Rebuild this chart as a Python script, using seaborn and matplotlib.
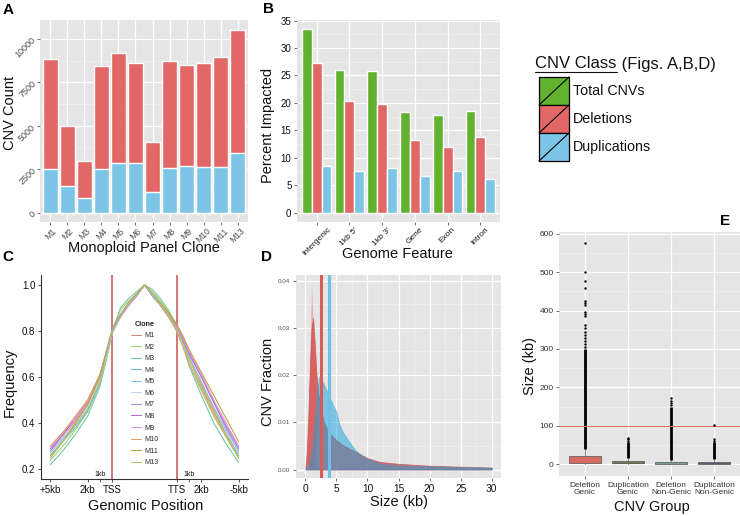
import matplotlib
matplotlib.use("Agg")
import matplotlib.pyplot as plt
import seaborn as sns
import numpy as np
import pandas as pd
from matplotlib.patches import Rectangle
from matplotlib.lines import Line2D

# ---------------- data ----------------
clones = ["M1", "M2", "M3", "M4", "M5", "M6", "M7", "M8", "M9", "M10", "M11", "M13"]
cnv_total = [8830, 4970, 2960, 8430, 9200, 8640, 4050, 8720, 8510, 8640, 8970, 10540]
cnv_dup = [2540, 1530, 880, 2540, 2870, 2850, 1200, 2600, 2700, 2620, 2620, 3460]

features = ["Intergenic", "1kb 5'", "1kb 3'", "Gene", "Exon", "Intron"]
pct_total = [33.4, 26.0, 25.9, 18.4, 17.8, 18.6]
pct_del = [27.2, 20.35, 19.9, 13.2, 12.0, 13.85]
pct_dup = [8.6, 7.7, 8.1, 6.7, 7.6, 6.1]

# panel C: positions (TSS = 0, gene body scaled to 5.2, TTS = 5.2)
c_pos = [-5, -4, -3, -2, -1, -0.5, 0, 0.65, 1.3, 1.95, 2.6, 3.25, 3.9, 4.55, 5.2, 5.7, 6.2, 7.2, 8.2, 9.2, 10.2]
c_tss, c_tts = 0.0, 5.2
freq_M1 = [0.28, 0.34, 0.41, 0.48, 0.60, 0.70, 0.80, 0.87, 0.92, 0.96, 1.00, 0.96, 0.92, 0.87, 0.81, 0.75, 0.68, 0.56, 0.45, 0.35, 0.27]
freq_M2 = [0.24, 0.30, 0.37, 0.45, 0.58, 0.69, 0.81, 0.89, 0.93, 0.96, 1.00, 0.97, 0.93, 0.88, 0.82, 0.74, 0.66, 0.54, 0.43, 0.34, 0.25]
freq_M3 = [0.22, 0.28, 0.35, 0.43, 0.56, 0.67, 0.79, 0.90, 0.94, 0.97, 1.00, 0.98, 0.94, 0.89, 0.82, 0.74, 0.65, 0.52, 0.40, 0.31, 0.23]
freq_M4 = [0.26, 0.32, 0.38, 0.45, 0.57, 0.68, 0.80, 0.86, 0.91, 0.95, 1.00, 0.95, 0.91, 0.86, 0.80, 0.74, 0.68, 0.57, 0.46, 0.36, 0.26]
freq_M5 = [0.27, 0.33, 0.39, 0.46, 0.58, 0.68, 0.79, 0.86, 0.91, 0.95, 1.00, 0.95, 0.91, 0.86, 0.81, 0.75, 0.69, 0.58, 0.47, 0.37, 0.28]
freq_M6 = [0.29, 0.34, 0.40, 0.47, 0.58, 0.68, 0.79, 0.86, 0.91, 0.96, 1.00, 0.96, 0.91, 0.86, 0.80, 0.74, 0.68, 0.57, 0.46, 0.36, 0.27]
freq_M7 = [0.28, 0.35, 0.42, 0.50, 0.61, 0.71, 0.81, 0.87, 0.92, 0.96, 1.00, 0.96, 0.92, 0.87, 0.82, 0.77, 0.71, 0.60, 0.49, 0.39, 0.30]
freq_M8 = [0.29, 0.35, 0.42, 0.49, 0.61, 0.70, 0.80, 0.87, 0.92, 0.96, 1.00, 0.96, 0.92, 0.87, 0.82, 0.76, 0.70, 0.60, 0.49, 0.38, 0.29]
freq_M9 = [0.30, 0.36, 0.42, 0.49, 0.60, 0.70, 0.80, 0.86, 0.91, 0.95, 1.00, 0.96, 0.92, 0.87, 0.82, 0.77, 0.71, 0.61, 0.50, 0.40, 0.30]
freq_M10 = [0.30, 0.36, 0.43, 0.50, 0.61, 0.70, 0.80, 0.87, 0.92, 0.96, 1.00, 0.96, 0.91, 0.86, 0.80, 0.73, 0.66, 0.55, 0.44, 0.34, 0.25]
freq_M11 = [0.25, 0.32, 0.40, 0.48, 0.60, 0.70, 0.80, 0.87, 0.92, 0.96, 1.00, 0.96, 0.92, 0.88, 0.83, 0.78, 0.72, 0.62, 0.52, 0.42, 0.32]
freq_M13 = [0.26, 0.32, 0.39, 0.46, 0.58, 0.69, 0.80, 0.87, 0.92, 0.96, 1.00, 0.96, 0.92, 0.87, 0.81, 0.75, 0.68, 0.57, 0.46, 0.35, 0.25]
c_ticks = [-5, -2, 0, 5.2, 7.2, 10.2]
c_ticklabels = ["+5kb", "2kb", "TSS", "TTS", "2kb", "-5kb"]
c_1kb = [-1, 6.2]

# panel D: size distributions (kb, fraction)
del_size = [0, 0.25, 0.5, 0.75, 1.0, 1.25, 1.5, 1.75, 2.0, 2.25, 2.5, 3.0, 3.5, 4.0, 5.0, 6.0, 7.0, 8.0, 10.0, 12.0, 15.0, 20.0, 25.0, 30.0]
del_frac = [0, 0.004, 0.012, 0.022, 0.030, 0.032, 0.027, 0.021, 0.017, 0.0145, 0.0125, 0.0100, 0.0085, 0.0075, 0.0062, 0.0052, 0.0045, 0.0038, 0.0024, 0.0016, 0.0012, 0.0008, 0.0006, 0.0004]
del_fine_size = [0.3, 0.6, 0.85, 1.0, 1.15, 1.4, 1.7]
del_fine_frac = [0.002, 0.015, 0.030, 0.039, 0.034, 0.027, 0.020]
dup_size = [0, 0.5, 1.0, 1.5, 1.75, 2.0, 2.25, 2.5, 3.0, 3.5, 4.0, 4.5, 5.0, 5.5, 6.0, 7.0, 8.0, 9.0, 10.0, 11.0, 12.0, 14.0, 17.0, 20.0, 25.0, 30.0]
dup_frac = [0, 0.001, 0.004, 0.010, 0.015, 0.018, 0.0197, 0.0192, 0.0180, 0.0165, 0.0150, 0.0135, 0.0122, 0.0095, 0.0080, 0.0060, 0.0042, 0.0030, 0.0023, 0.0018, 0.0013, 0.0010, 0.0008, 0.0007, 0.0005, 0.0004]
del_median = 2.45
dup_median = 3.8

# panel E: box summaries (kb)
groups = ["Deletion\nGenic", "Duplication\nGenic", "Deletion\nNon-Genic", "Duplication\nNon-Genic"]
box_q1 = [5, 3, 1.5, 2]
box_med = [9, 5, 3, 4]
box_q3 = [21, 9, 6, 7]
box_lo = [0.2, 0.5, 0.2, 0.3]
box_hi = [40, 18, 12, 14]
dense_lo = [40, 18, 12, 14]
dense_hi = [300, 58, 150, 58]
out_g0 = [305, 312, 320, 328, 336, 345, 355, 362, 385, 390, 396, 415, 420, 425, 458, 476, 500, 575]
out_g1 = [62, 66, 70]
out_g2 = [155, 160, 165, 172]
out_g3 = [62, 65, 102]
size_cut = 100

# ---------------- style ----------------
sns.set_theme(style="darkgrid")
plt.rcParams["font.family"] = ["Liberation Sans", "DejaVu Sans"]

GREEN = "#62B22F"
RED = "#E26868"
BLUE = "#7CC5E6"
clone_colors = ["#D98383", "#9CCB7C", "#6CC79A", "#6FB8C9", "#86BCE3", "#C4D3EA",
                "#A986E0", "#B66AD6", "#E58BD9", "#E2A35A", "#B5A23A", "#A7C567"]

W, H = 740, 516
fig = plt.figure(figsize=(W / 100, H / 100), dpi=100)


def ax_px(x0, y0, x1, y1):
    return fig.add_axes([x0 / W, 1 - y1 / H, (x1 - x0) / W, (y1 - y0) / H])


def gg(ax):
    ax.set_facecolor("#E5E5E5")
    ax.set_axisbelow(True)
    ax.grid(True, which="major", color="white", lw=0.9)
    ax.grid(True, which="minor", color="#F3F3F3", lw=0.45)
    for s in ax.spines.values():
        s.set_visible(False)
    ax.tick_params(which="major", length=2.5, width=0.6, color="#555555", pad=1.5,
                   bottom=True, left=True)
    ax.tick_params(which="minor", length=0)


TXT = "#111111"

# ---------------- panel A ----------------
dfA = pd.DataFrame({"clone": clones, "total": cnv_total, "dup": cnv_dup})
axA = ax_px(40, 20, 248, 222)
sns.barplot(data=dfA, x="clone", y="total", color=RED, saturation=1, width=0.9,
            errorbar=None, ax=axA, zorder=2)
sns.barplot(data=dfA, x="clone", y="dup", color=BLUE, saturation=1, width=0.9,
            errorbar=None, ax=axA, zorder=2)
gg(axA)
axA.xaxis.grid(True, color="white", lw=0.9)
axA.set_xlim(-0.6, len(clones) - 0.4)
axA.set_ylim(-528, 11088)
axA.set_yticks([0, 2500, 5000, 7500, 10000])
axA.set_yticks([1250, 3750, 6250, 8750], minor=True)
axA.set_yticklabels(["0", "2500", "5000", "7500", "10000"], rotation=45, fontsize=6.5,
                    color="#4D4D4D", rotation_mode="anchor", ha="right", va="center")
axA.set_xticks(range(len(clones)))
axA.set_xticklabels(clones, rotation=45, fontsize=6.2, color="#4D4D4D", ha="center")
axA.tick_params(axis="x", pad=0.5)
axA.set_xlabel("")
axA.set_ylabel("")

# ---------------- panel B ----------------
dfB = pd.DataFrame({
    "feature": features * 3,
    "cls": ["Total CNVs"] * 6 + ["Deletions"] * 6 + ["Duplications"] * 6,
    "pct": pct_total + pct_del + pct_dup,
})
axB = ax_px(297, 20, 500, 222)
sns.barplot(data=dfB, x="feature", y="pct", hue="cls", palette=[GREEN, RED, BLUE],
            saturation=1, width=0.9, errorbar=None, legend=False, ax=axB, zorder=2)
gg(axB)
axB.xaxis.grid(True, color="white", lw=0.9)
axB.set_xlim(-0.6, len(features) - 0.4)
axB.set_ylim(-1.67, 35.1)
axB.set_yticks([0, 5, 10, 15, 20, 25, 30, 35])
axB.set_yticks([2.5, 7.5, 12.5, 17.5, 22.5, 27.5, 32.5], minor=True)
axB.tick_params(axis="y", labelsize=7, labelcolor=TXT)
axB.set_xticks(range(len(features)))
axB.set_xticklabels(features, rotation=45, fontsize=6.0, color=TXT, ha="center")
axB.tick_params(axis="x", pad=0.5)
axB.set_xlabel("")
axB.set_ylabel("")

# ---------------- panel C ----------------
rowsC = []
for name, vals in zip(clones, [freq_M1, freq_M2, freq_M3, freq_M4, freq_M5, freq_M6,
                               freq_M7, freq_M8, freq_M9, freq_M10, freq_M11, freq_M13]):
    for p, v in zip(c_pos, vals):
        rowsC.append({"pos": p, "freq": v, "Clone": name})
dfC = pd.DataFrame(rowsC)
axC = ax_px(41, 275, 248, 479)
axC.set_facecolor("white")
axC.grid(False)
axC.axvline(c_tss, color="#D46A6A", lw=1.3, zorder=1)
axC.axvline(c_tts, color="#D46A6A", lw=1.3, zorder=1)
sns.lineplot(data=dfC, x="pos", y="freq", hue="Clone", hue_order=clones,
             palette=dict(zip(clones, clone_colors)), lw=0.75, ax=axC, zorder=2)
for s in ["top", "right"]:
    axC.spines[s].set_visible(False)
for s in ["left", "bottom"]:
    axC.spines[s].set_visible(True)
    axC.spines[s].set_color("#333333")
    axC.spines[s].set_linewidth(0.8)
axC.set_xlim(-5.76, 10.96)
axC.set_ylim(0.158, 1.043)
axC.set_yticks([0.2, 0.4, 0.6, 0.8, 1.0])
axC.set_yticklabels(["0.2", "0.4", "0.6", "0.8", "1.0"])
axC.set_xticks(c_ticks)
axC.set_xticklabels(c_ticklabels)
axC.set_xticks(c_1kb, minor=True)
axC.tick_params(which="major", length=2.5, width=0.6, color="#333333", labelsize=7,
                labelcolor=TXT, pad=1.5, bottom=True, left=True)
axC.tick_params(which="minor", length=2.0, width=0.5, color="#333333", bottom=True)
for xk in c_1kb:
    axC.text(xk, 0.163, "1kb", fontsize=5, ha="center", va="bottom", color=TXT)
axC.set_xlabel("")
axC.set_ylabel("")
leg = axC.legend(title="Clone", loc="upper left", bbox_to_anchor=(0.42, 0.79),
                 fontsize=5.2, title_fontsize=5.2, frameon=False, handlelength=1.4,
                 handletextpad=0.5, labelspacing=0.62, borderaxespad=0)
leg.get_title().set_fontweight("bold")
for t in leg.get_texts():
    t.set_color("#333333")

# ---------------- panel D ----------------
axD = ax_px(296, 275, 501, 478)
gg(axD)
axD.fill_between(del_fine_size, del_fine_frac, color="#E06A6A", alpha=0.45, lw=0,
                 zorder=2)
axD.fill_between(del_size, del_frac, color="#DA4E4E", alpha=0.8, lw=0.6,
                 edgecolor="#C85050", zorder=2)
axD.fill_between(dup_size, dup_frac, color="#14A2DC", alpha=0.5, lw=0.6,
                 edgecolor="#3E9CC8", zorder=3)
axD.axvline(del_median, color="#D95B5B", lw=2.2, zorder=4)
axD.axvline(dup_median, color="#6DC1E6", lw=2.2, zorder=4)
axD.set_xlim(-1.5, 31.5)
axD.set_ylim(-0.0018, 0.0412)
axD.set_xticks([0, 5, 10, 15, 20, 25, 30])
axD.set_xticks([2.5, 7.5, 12.5, 17.5, 22.5, 27.5], minor=True)
axD.set_yticks([0, 0.01, 0.02, 0.03, 0.04])
axD.set_yticklabels(["0.00", "0.01", "0.02", "0.03", "0.04"])
axD.set_yticks([0.005, 0.015, 0.025, 0.035], minor=True)
axD.tick_params(axis="x", labelsize=7.3, labelcolor=TXT)
axD.tick_params(axis="y", labelsize=4.5, labelcolor="#555555")
axD.set_xlabel("")
axD.set_ylabel("")

# ---------------- panel E ----------------
axE = ax_px(559, 232, 740, 476)
gg(axE)
box_cols = ["#D96C62", "#6E7B4E", "#7F9B9A", "#555B68"]
stats = []
for i in range(4):
    stats.append(dict(med=box_med[i], q1=box_q1[i], q3=box_q3[i],
                      whislo=box_lo[i], whishi=box_hi[i], fliers=[]))
bp = axE.bxp(stats, positions=range(4), widths=0.75, patch_artist=True,
             showfliers=False, showcaps=False,
             whiskerprops=dict(color="#888888", lw=0.7),
             medianprops=dict(color="#444444", lw=0.8),
             boxprops=dict(lw=0.6, edgecolor="#666666"))
for patch, col in zip(bp["boxes"], box_cols):
    patch.set_facecolor(col)
    patch.set_zorder(3)
axE.vlines(range(4), dense_lo, dense_hi, color="black", lw=2.0, zorder=4)
outs = pd.DataFrame({
    "g": [0] * len(out_g0) + [1] * len(out_g1) + [2] * len(out_g2) + [3] * len(out_g3),
    "kb": out_g0 + out_g1 + out_g2 + out_g3,
})
sns.scatterplot(data=outs, x="g", y="kb", color="black", s=3, linewidth=0, ax=axE,
                zorder=5)
axE.axhline(size_cut, color="#E07272", lw=0.8, zorder=4)
axE.set_xlim(-0.6, 3.6)
axE.set_ylim(-30, 604)
axE.set_yticks([0, 100, 200, 300, 400, 500, 600])
axE.set_yticks([50, 150, 250, 350, 450, 550], minor=True)
axE.set_xticks(range(4))
axE.set_xticklabels(groups, fontsize=6, color="#333333", linespacing=1.0)
axE.tick_params(axis="y", labelsize=6, labelcolor="#333333")
axE.set_xlabel("")
axE.set_ylabel("")

# ---------------- overlay: titles, legend, panel letters ----------------
ov = fig.add_axes([0, 0, 1, 1], zorder=10)
ov.set_xlim(0, W)
ov.set_ylim(H, 0)
ov.axis("off")
ov.patch.set_alpha(0)

lab = dict(fontsize=10.5, color=TXT, ha="center", va="center")
ov.text(144, 248, "Monoploid Panel Clone", **lab)
ov.text(10, 113, "CNV Count", rotation=90, **lab)
ov.text(397, 254, "Genome Feature", **lab)
ov.text(268, 125, "Percent Impacted", rotation=90, **lab)
ov.text(146, 506, "Genomic Position", **lab)
ov.text(10, 382, "Frequency", rotation=90, **lab)
ov.text(399, 502, "Size (kb)", **lab)
ov.text(268, 382, "CNV Fraction", rotation=90, **lab)
ov.text(652, 507, "CNV Group", **lab)
ov.text(530, 366, "Size (kb)", rotation=90, **lab)

letters = dict(fontsize=11, fontweight="bold", color="black", ha="center", va="center")
ov.text(8, 10, "A", **letters)
ov.text(268, 9, "B", **letters)
ov.text(8, 257, "C", **letters)
ov.text(267, 257, "D", **letters)
ov.text(725, 221, "E", **letters)

# legend for CNV class
ov.text(535, 64, "CNV Class", fontsize=12, color=TXT, ha="left", va="center")
ov.text(617, 64, " (Figs. A,B,D)", fontsize=12, color=TXT, ha="left", va="center")
ov.add_line(Line2D([535, 617], [72, 72], color=TXT, lw=0.8))
leg_labels = ["Total CNVs", "Deletions", "Duplications"]
leg_cols = [GREEN, RED, BLUE]
for i, (lbl, col) in enumerate(zip(leg_labels, leg_cols)):
    y0 = 77 + 28 * i
    ov.add_patch(Rectangle((539, y0), 30, 28, facecolor=col, edgecolor="black", lw=0.9))
    ov.add_line(Line2D([539, 569], [y0 + 28, y0], color="black", lw=0.8))
    ov.text(573, y0 + 14, lbl, fontsize=10.3, color=TXT, ha="left", va="center")

fig.savefig("out.png", dpi=100)
